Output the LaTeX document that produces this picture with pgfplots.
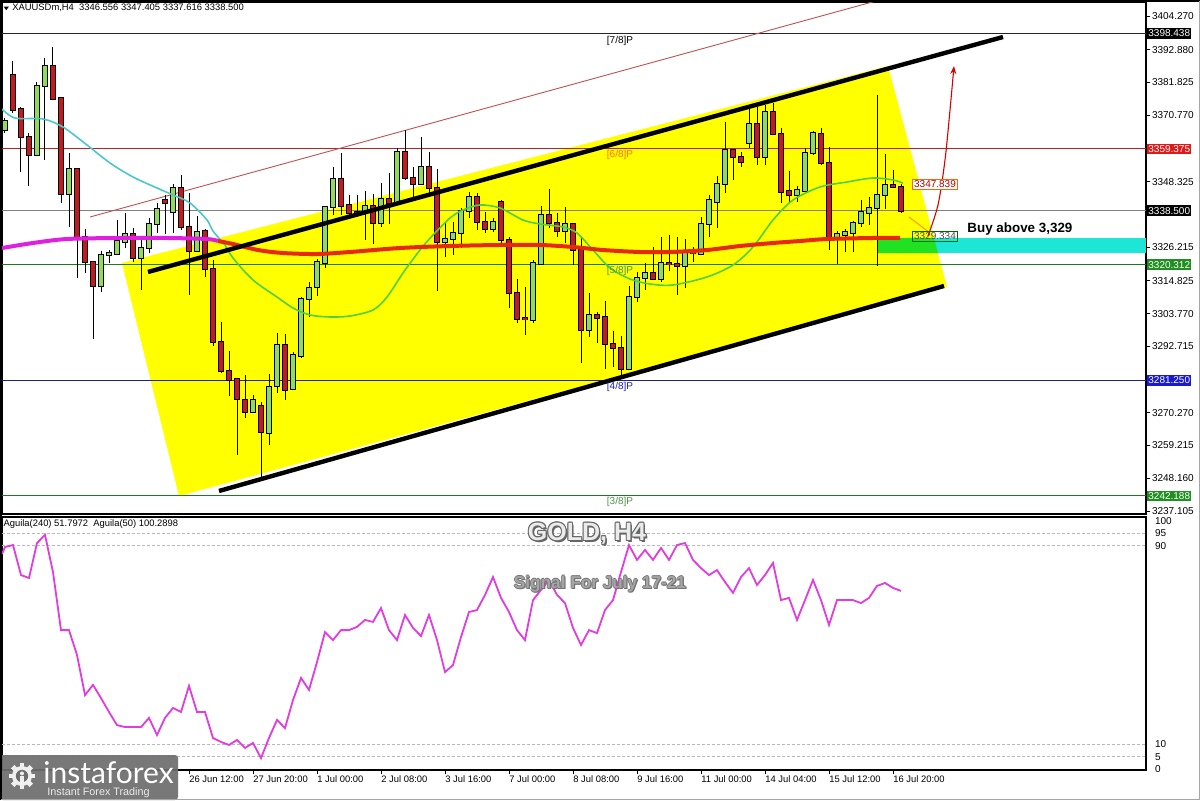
\documentclass[border=0pt]{standalone}
\usepackage{fontspec}
\setmainfont{Liberation Sans}
\newfontfamily\lato{Lato}
\usepackage{pgfplots}
\pgfplotsset{compat=1.18}
\usepackage{pgfplotstable}
\usetikzlibrary{arrows.meta}

\definecolor{bullc}{HTML}{8EDC5A}
\definecolor{bearc}{HTML}{C41A1E}
\definecolor{chan}{HTML}{FFFF00}
\definecolor{zonec}{HTML}{1EE6D6}
\definecolor{zoneg}{HTML}{22E022}
\definecolor{maf}{HTML}{4CC8C8}
\definecolor{mag}{HTML}{50D040}
\definecolor{mas}{HTML}{E8280C}
\definecolor{masm}{HTML}{E020E0}
\definecolor{agu}{HTML}{E03CE0}
\definecolor{lvred}{HTML}{B02525}
\definecolor{lvgreen}{HTML}{1E7A1E}
\definecolor{lvblue}{HTML}{202080}
\definecolor{boxred}{HTML}{E01818}
\definecolor{boxgreen}{HTML}{1F8F1F}
\definecolor{boxblue}{HTML}{1A1AD0}
\definecolor{logo}{HTML}{6E6E6E}

\newcommand\mt{\fontsize{5}{6}\selectfont}
\newcommand\mts{\fontsize{4.7}{5.6}\selectfont}

% XAUUSD H4 bars: index, open, high, low, close
\pgfplotstableread{
i o h l c
0 3365.77 3369.82 3364.76 3368.81
1 3384.34 3389.07 3371.51 3372.52
2 3372.86 3373.54 3351.59 3363.41
3 3363.41 3364.76 3346.86 3357.33
4 3357.33 3381.98 3357.00 3380.63
5 3380.63 3390.08 3355.64 3387.38
6 3387.38 3393.80 3375.90 3376.24
7 3376.58 3376.92 3341.12 3344.16
8 3344.16 3358.00 3333.01 3352.60
9 3352.60 3352.94 3315.79 3329.64
10 3329.64 3332.34 3317.48 3321.19
11 3321.19 3321.53 3295.19 3313.09
12 3313.09 3324.91 3311.06 3323.56
13 3323.56 3325.24 3320.85 3324.23
14 3323.89 3335.38 3323.56 3328.28
15 3327.95 3337.74 3325.92 3330.65
16 3330.65 3332.67 3321.19 3322.54
17 3322.54 3329.30 3311.74 3325.92
18 3325.92 3336.05 3324.23 3334.03
19 3334.03 3341.12 3330.99 3339.09
20 3342.13 3343.82 3330.65 3341.12
21 3338.08 3347.53 3330.99 3346.18
22 3346.18 3350.57 3332.00 3333.01
23 3333.01 3344.49 3310.05 3324.91
24 3324.91 3336.73 3324.57 3331.32
25 3331.66 3332.34 3316.13 3318.83
26 3318.83 3321.87 3292.83 3294.18
27 3294.18 3300.93 3283.71 3284.38
28 3284.38 3291.14 3275.94 3281.34
29 3281.68 3282.02 3256.02 3274.93
30 3274.59 3283.03 3268.51 3270.54
31 3270.54 3276.28 3270.20 3274.59
32 3272.56 3273.91 3248.59 3263.78
33 3263.45 3283.37 3259.39 3278.98
34 3279.32 3297.22 3276.95 3293.16
35 3293.16 3296.88 3274.59 3277.97
36 3278.30 3290.80 3277.97 3289.79
37 3289.45 3309.37 3288.77 3308.70
38 3308.70 3314.44 3302.62 3312.41
39 3312.75 3322.21 3309.71 3321.19
40 3320.85 3340.10 3319.17 3339.77
41 3339.77 3353.27 3337.06 3349.22
42 3349.22 3358.00 3337.06 3340.10
43 3340.44 3343.82 3337.06 3337.74
44 3338.08 3343.82 3336.39 3337.74
45 3337.74 3345.17 3328.62 3340.10
46 3340.10 3344.16 3327.27 3334.36
47 3334.36 3347.87 3333.01 3342.47
48 3342.47 3351.25 3334.03 3341.12
49 3341.45 3359.69 3341.12 3358.34
50 3358.34 3365.77 3348.88 3349.56
51 3349.56 3353.27 3343.14 3347.53
52 3347.53 3363.41 3347.19 3353.27
53 3353.27 3358.34 3343.14 3346.18
54 3346.18 3352.60 3311.40 3327.95
55 3327.95 3334.70 3322.88 3328.96
56 3328.96 3334.70 3323.56 3330.99
57 3330.99 3339.43 3325.92 3338.42
58 3338.42 3344.83 3336.05 3343.14
59 3343.14 3344.49 3332.00 3334.70
60 3334.70 3338.08 3330.99 3332.34
61 3332.34 3336.05 3331.32 3334.70
62 3341.45 3342.13 3326.26 3328.62
63 3328.62 3329.64 3305.66 3310.72
64 3310.72 3315.45 3300.59 3301.94
65 3302.28 3312.75 3296.54 3301.94
66 3301.61 3321.87 3300.59 3320.85
67 3320.52 3340.10 3320.18 3337.06
68 3337.06 3345.84 3332.67 3334.36
69 3334.36 3337.74 3329.64 3331.66
70 3331.66 3339.77 3327.61 3334.03
71 3334.03 3334.36 3320.18 3325.24
72 3325.24 3329.64 3287.08 3298.23
73 3298.23 3310.72 3295.87 3303.29
74 3303.29 3304.31 3293.84 3302.28
75 3302.62 3308.02 3285.06 3293.50
76 3293.50 3297.89 3285.73 3292.15
77 3292.15 3296.20 3282.69 3285.06
78 3285.06 3313.09 3284.72 3309.37
79 3309.37 3317.82 3307.68 3315.79
80 3315.79 3320.85 3311.74 3317.48
81 3317.48 3326.26 3315.11 3315.45
82 3315.45 3329.64 3314.44 3320.85
83 3320.85 3330.31 3318.15 3320.52
84 3320.52 3329.64 3310.05 3319.84
85 3319.84 3328.96 3312.41 3324.57
86 3324.57 3326.26 3321.19 3324.23
87 3323.89 3336.39 3323.56 3334.03
88 3334.03 3343.82 3329.64 3342.13
89 3341.45 3350.23 3332.67 3347.53
90 3347.53 3368.47 3344.49 3359.01
91 3359.01 3359.35 3348.88 3356.65
92 3356.65 3358.34 3353.27 3354.96
93 3361.38 3373.20 3359.69 3367.80
94 3367.80 3373.54 3353.95 3356.65
95 3356.65 3374.21 3353.95 3371.85
96 3371.85 3374.89 3364.08 3364.42
97 3364.42 3366.44 3341.12 3344.83
98 3345.17 3351.92 3341.12 3343.82
99 3343.82 3346.86 3341.45 3345.51
100 3345.17 3359.69 3344.83 3358.00
101 3358.00 3365.43 3357.33 3364.76
102 3364.42 3366.44 3353.95 3354.62
103 3354.62 3360.03 3325.24 3328.96
104 3328.96 3331.66 3320.52 3330.65
105 3330.31 3332.34 3324.57 3331.32
106 3330.99 3335.04 3324.57 3334.36
107 3334.36 3342.13 3333.01 3338.08
108 3337.74 3343.14 3333.69 3339.43
109 3339.43 3377.59 3319.84 3343.82
110 3343.82 3357.66 3339.09 3347.20
111 3347.20 3352.26 3346.52 3346.60
112 3346.556 3347.405 3337.616 3338.500
}\candles

% Aguila oscillator
\pgfplotstableread{
i v
-0.375 86.7
0 89.5
1 90.3
2 78.2
3 77.0
4 91.1
5 94.4
6 79.4
7 56.0
8 56.0
9 46.0
10 29.8
11 33.9
12 28.6
13 23.0
14 17.7
15 16.9
16 16.9
17 16.9
18 20.6
19 13.7
20 20.6
21 24.6
22 23.0
23 33.5
24 23.0
25 23.0
26 12.5
27 10.9
28 9.7
29 11.7
30 8.5
31 10.5
32 4.4
33 12.5
34 19.8
35 16.5
36 27.8
37 36.7
38 31.9
39 43.1
40 55.2
41 52.0
42 56.0
43 56.0
44 57.3
45 60.1
46 59.3
47 64.9
48 56.0
49 52.0
50 62.1
51 56.9
52 53.6
53 62.1
54 52.0
55 39.1
56 41.9
57 53.2
58 63.3
59 64.1
60 70.2
61 77.4
62 69.0
63 63.3
64 56.0
65 52.0
66 68.1
67 72.2
68 76.2
69 70.2
70 66.9
71 56.9
72 50.0
73 56.0
74 54.8
75 64.1
76 68.1
77 79.4
78 90.3
79 84.3
80 88.3
81 84.3
82 89.1
83 84.3
84 90.3
85 91.1
86 84.3
87 81.0
88 78.2
89 80.2
90 75.4
91 71.0
92 77.4
93 81.0
94 74.2
95 78.2
96 83.1
97 68.1
98 69.0
99 60.1
100 68.1
101 76.2
102 68.1
103 58.1
104 68.1
105 68.1
106 68.1
107 66.9
108 69.0
109 73.8
110 75.0
111 73.0
112 71.8
}\aguila

\pgfplotsset{candle/.style={mark=none, draw=none, forget plot,
  error bars/.cd, y dir=both, y explicit, error mark=none}}

\begin{document}
\begin{tikzpicture}[x=1pt,y=1pt]
\useasboundingbox (0,0) rectangle (600,400);
\fill[white] (0,0) rectangle (600,400);

% ---------------- price window ----------------
\begin{axis}[
  at={(1pt,143pt)}, anchor=south west,
  scale only axis, width=572pt, height=256pt,
  xmin=-0.375, xmax=142.625, ymin=3236.09, ymax=3409.0,
  clip mode=individual,
  axis line style={black, line width=0.6pt},
  xtick=\empty,
  ytick pos=right, yticklabel pos=right,
  ytick={3404.270,3392.880,3381.825,3370.770,3348.325,3326.215,3314.825,3303.770,3292.715,3270.270,3259.215,3248.160,3237.105},
  yticklabels={3404.270,3392.880,3381.825,3370.770,3348.325,3326.215,3314.825,3303.770,3292.715,3270.270,3259.215,3248.160,3237.105},
  tick align=outside, major tick length=2pt,
  tick style={black, line width=0.4pt},
  yticklabel style={font=\mt, anchor=west, inner sep=0.8pt},
]
% channel background
\addplot[fill=chan, draw=none] coordinates {(14.625,3320.85) (110.375,3387.39) (117.75,3312.75) (21.75,3242.17)} -- cycle;
% buy zone
\addplot[fill=zonec, draw=none] coordinates {(109,3329.30) (142.625,3329.30) (142.625,3324.23) (109,3324.23)} -- cycle;
\addplot[fill=zoneg, draw=none] coordinates {(109,3329.30) (116.125,3329.30) (116.625,3324.23) (109,3324.23)} -- cycle;
% Murrey levels and last price
\addplot[black!85, line width=0.5pt] coordinates {(-0.375,3398.438) (142.625,3398.438)};
\addplot[lvred, line width=0.5pt] coordinates {(-0.375,3359.375) (142.625,3359.375)};
\addplot[gray, line width=0.5pt] coordinates {(-0.375,3338.500) (142.625,3338.500)};
\addplot[lvgreen, line width=0.5pt] coordinates {(-0.375,3320.312) (142.625,3320.312)};
\addplot[lvblue, line width=0.5pt] coordinates {(-0.375,3281.250) (142.625,3281.250)};
\addplot[lvgreen, line width=0.5pt] coordinates {(-0.375,3242.188) (142.625,3242.188)};
% outer parallel line
\addplot[lvred!80!white, line width=0.45pt] coordinates {(10.625,3336.39) (112.5,3412.04)};

% candles: wicks, body outlines, bodies
\addplot[candle, error bar style={draw=black, solid, line width=0.5pt}]
  table[x=i, y expr={(\thisrow{h}+\thisrow{l})/2}, y error expr={(\thisrow{h}-\thisrow{l})/2}] {\candles};
\addplot[candle, error bar style={draw=black, solid, line width=2.8pt}]
  table[x=i, y expr={(\thisrow{o}+\thisrow{c})/2}, y error expr={abs(\thisrow{c}-\thisrow{o})/2+0.34}] {\candles};
\addplot[candle, error bar style={draw=bullc, solid, line width=1.8pt}]
  table[x=i, y expr={\thisrow{c}>=\thisrow{o} ? (\thisrow{o}+\thisrow{c})/2 : nan}, y error expr={abs(\thisrow{c}-\thisrow{o})/2}] {\candles};
\addplot[candle, error bar style={draw=bearc, solid, line width=1.8pt}]
  table[x=i, y expr={\thisrow{c}<\thisrow{o} ? (\thisrow{o}+\thisrow{c})/2 : nan}, y error expr={abs(\thisrow{c}-\thisrow{o})/2}] {\candles};

% moving averages
\addplot[maf, line width=0.8pt, smooth] coordinates {(-0.375,3372.86) (1.25,3369.82) (4.75,3369.49) (7.25,3366.78) (10.25,3360.71) (13.125,3354.63) (16,3349.90) (19,3346.18) (21,3343.82) (23.125,3341.12) (25.25,3335.38) (26,3331.66) (27.5,3326.94)};
\addplot[mag, line width=0.8pt, smooth] coordinates {(27.5,3326.94) (28.5,3322.55) (31,3315.12) (34,3309.37) (36,3305.66) (38.125,3303.30) (40.625,3302.62) (43.125,3302.96) (46,3304.99) (47.75,3309.37) (49.75,3317.48) (51.875,3325.24) (53.5,3330.31) (55.625,3336.05) (57.25,3338.76) (59.375,3340.45) (61.875,3339.43) (64.75,3335.38) (66.875,3334.03) (69.75,3333.01) (71.5,3330.99) (73.5,3325.24) (75.625,3319.17) (78.125,3315.45) (80.625,3313.77) (83.5,3313.43) (87.75,3316.13) (91,3320.18) (93.5,3326.26) (96,3335.38) (98.5,3342.13) (101.875,3346.52) (105.25,3348.21) (108.5,3349.56) (111,3348.89) (112.25,3347.84)};
\addplot[masm, line width=2pt, smooth] coordinates {(-0.375,3325.92) (3.5,3327.61) (7.75,3328.96) (14.375,3329.30) (20.25,3329.30) (25.25,3328.96) (26.625,3328.28)};
\addplot[mas, line width=2pt, smooth] coordinates {(26.625,3328.28) (28.5,3327.27) (31.625,3325.24) (34.75,3324.23) (39,3323.89) (43.125,3324.57) (49.375,3325.92) (55.625,3326.60) (61.875,3326.94) (66.875,3326.94) (71,3326.26) (74.75,3325.24) (79.375,3324.57) (83.125,3324.57) (87.75,3325.24) (91.875,3326.60) (96,3327.61) (99.375,3328.28) (102.75,3328.96) (108.5,3329.30) (111.875,3329.33)};

% channel borders
\addplot[black, line width=2.2pt] coordinates {(17.875,3317.82) (124.75,3397.18)};
\addplot[black, line width=2.2pt] coordinates {(26.75,3243.86) (117.375,3313.09)};
% pointer and projected move
\addplot[orange!80!yellow, line width=0.5pt] coordinates {(113,3336.39) (115.625,3330.99)};
\addplot[red!85!black, line width=0.55pt, smooth, -{Stealth[length=4pt,width=3pt,open]}] coordinates {(115.375,3329.98) (116.625,3340.45) (117.5,3355.64) (118.125,3372.53) (118.625,3387.39)};

% labels on the chart
\node[font=\mt, black, inner sep=0] at (axis cs:76.875,3396.0) {[7/8]P};
\node[font=\mt, text=orange!90!red, inner sep=0] at (axis cs:76.875,3357.2) {[6/8]P};
\node[font=\mt, text=lvgreen!80!white, inner sep=0] at (axis cs:76.875,3318.3) {[5/8]P};
\node[font=\mt, text=boxblue, inner sep=0] at (axis cs:76.875,3278.9) {[4/8]P};
\node[font=\mt, text=lvgreen!80!white, inner sep=0] at (axis cs:76.875,3240.3) {[3/8]P};
\node[font=\mt, draw=orange!80!red, fill=white, text=red!70!black, inner sep=0.7pt] at (axis cs:116.25,3347.54) {3347.839};
\node[font=\mt, draw=black!60!green, text=black!70, inner sep=0.7pt] at (axis cs:116.25,3329.97) {3329.334};
\node[font=\fontsize{6.7}{8}\selectfont\bfseries, anchor=west, inner sep=0] at (axis cs:120.25,3332.4) {Buy above 3,329};
\node[font=\mts, anchor=west, inner sep=0] at (rel axis cs:0.0087,0.988) {XAUUSDm,H4\ \ 3346.556 3347.405 3337.616 3338.500};
\fill[black] (rel axis cs:0.0015,0.991) -- (rel axis cs:0.0060,0.991) -- (rel axis cs:0.0037,0.984) -- cycle;

% price tags on the scale
\node[font=\mt, fill=black, text=white, anchor=west, inner xsep=0.6pt, inner ysep=0.9pt, xshift=0.4pt] at (axis cs:142.625,3398.438) {3398.438};
\node[font=\mt, fill=boxred, text=white, anchor=west, inner xsep=0.6pt, inner ysep=0.9pt, xshift=0.4pt] at (axis cs:142.625,3359.375) {3359.375};
\node[font=\mt, fill=black, text=white, anchor=west, inner xsep=0.6pt, inner ysep=0.9pt, xshift=0.4pt] at (axis cs:142.625,3338.500) {3338.500};
\node[font=\mt, fill=boxgreen, text=white, anchor=west, inner xsep=0.6pt, inner ysep=0.9pt, xshift=0.4pt] at (axis cs:142.625,3320.312) {3320.312};
\node[font=\mt, fill=boxblue, text=white, anchor=west, inner xsep=0.6pt, inner ysep=0.9pt, xshift=0.4pt] at (axis cs:142.625,3281.250) {3281.250};
\node[font=\mt, fill=boxgreen, text=white, anchor=west, inner xsep=0.6pt, inner ysep=0.9pt, xshift=0.4pt] at (axis cs:142.625,3242.188) {3242.188};
\end{axis}

% ---------------- oscillator window ----------------
\begin{axis}[
  at={(1pt,15pt)}, anchor=south west,
  scale only axis, width=572pt, height=126.5pt,
  xmin=-0.375, xmax=142.625, ymin=-0.4, ymax=101.6,
  clip mode=individual,
  axis line style={black, line width=0.6pt},
  ytick pos=right, yticklabel pos=right,
  ytick={0,5,10,90,95,100}, yticklabels={0,5,10,90,95,100},
  ytick style={draw=none},
  yticklabel style={font=\mt, anchor=west, inner sep=0.8pt, xshift=1.5pt},
  xtick pos=bottom,
  xtick={23,31,39,47,55,63,71,79,87,95,103,111},
  xticklabels={26 Jun 12:00,27 Jun 20:00,1 Jul 00:00,2 Jul 08:00,3 Jul 16:00,7 Jul 00:00,8 Jul 08:00,9 Jul 16:00,11 Jul 00:00,14 Jul 04:00,15 Jul 12:00,16 Jul 20:00},
  tick align=outside, major tick length=2pt,
  xtick style={black, line width=0.4pt},
  xticklabel style={font=\mts, anchor=north west, inner sep=0.6pt, xshift=-0.6pt},
]
\addplot[gray!55, line width=0.4pt, dash pattern=on 1.5pt off 1pt] coordinates {(-0.375,95) (142.625,95)};
\addplot[gray!55, line width=0.4pt, dash pattern=on 1.5pt off 1pt] coordinates {(-0.375,90) (142.625,90)};
\addplot[gray!55, line width=0.4pt, dash pattern=on 1.5pt off 1pt] coordinates {(-0.375,10) (142.625,10)};
\addplot[gray!55, line width=0.4pt, dash pattern=on 1.5pt off 1pt] coordinates {(-0.375,5) (142.625,5)};
\addplot[agu, line width=0.9pt] table[x=i, y=v] {\aguila};
\node[font=\mts, anchor=west, inner sep=0] at (rel axis cs:0.001,0.972) {Aguila(240) 51.7972\ \ Aguila(50) 100.2898};
\end{axis}

% embossed captions
\foreach \dx/\dy in {0.5/0,-0.5/0,0/0.5,0/-0.5,0.4/0.4,-0.4/0.4,0.4/-0.4,-0.4/-0.4,0.8/-0.8}
  \node[font=\fontsize{12.5}{14}\selectfont\bfseries, text=black!60] at (293.5+\dx,133+\dy) {GOLD, H4};
\node[font=\fontsize{12.5}{14}\selectfont\bfseries, text=black!8] at (293.5,133) {GOLD, H4};
\foreach \dx/\dy in {0.4/0,-0.4/0,0/0.4,0/-0.4,0.6/-0.6}
  \node[font=\fontsize{8.6}{10}\selectfont\bfseries, text=black!55] at (300+\dx,108+\dy) {Signal For July 17-21};
\node[font=\fontsize{8.6}{10}\selectfont\bfseries, text=black!35] at (300,108) {Signal For July 17-21};

% logo
\fill[logo, opacity=0.93, rounded corners=1.5pt] (0,0) rectangle (89,22.5);
\begin{scope}[shift={(11,12)}]
  \foreach \a in {0,45,...,315}
    \fill[white!88!gray, rotate=\a] (-1.2,4.3) rectangle (1.2,6.6);
  \fill[white!88!gray] (0,0) circle (5);
  \fill[logo] (0,0) circle (3.1);
  \fill[white!88!gray] (0,1.3) circle (1);
  \fill[white!88!gray] (-1.1,-4) rectangle (1.1,0.1);
\end{scope}
\node[font=\lato\fontsize{15}{16}\selectfont, text=white, anchor=base west, inner sep=0] at (21.5,8.5) {instaforex};
\node[font=\fontsize{5.4}{6}\selectfont, text=white!85!gray, anchor=base west, inner sep=0] at (23.5,2.2) {Instant Forex Trading};

% window frame
\draw[black, line width=1pt] (0.5,0) -- (0.5,399.5) -- (600,399.5);
\draw[gray!70, line width=0.6pt] (599.7,399.5) -- (599.7,0.3) -- (0.5,0.3);
\end{tikzpicture}
\end{document}
